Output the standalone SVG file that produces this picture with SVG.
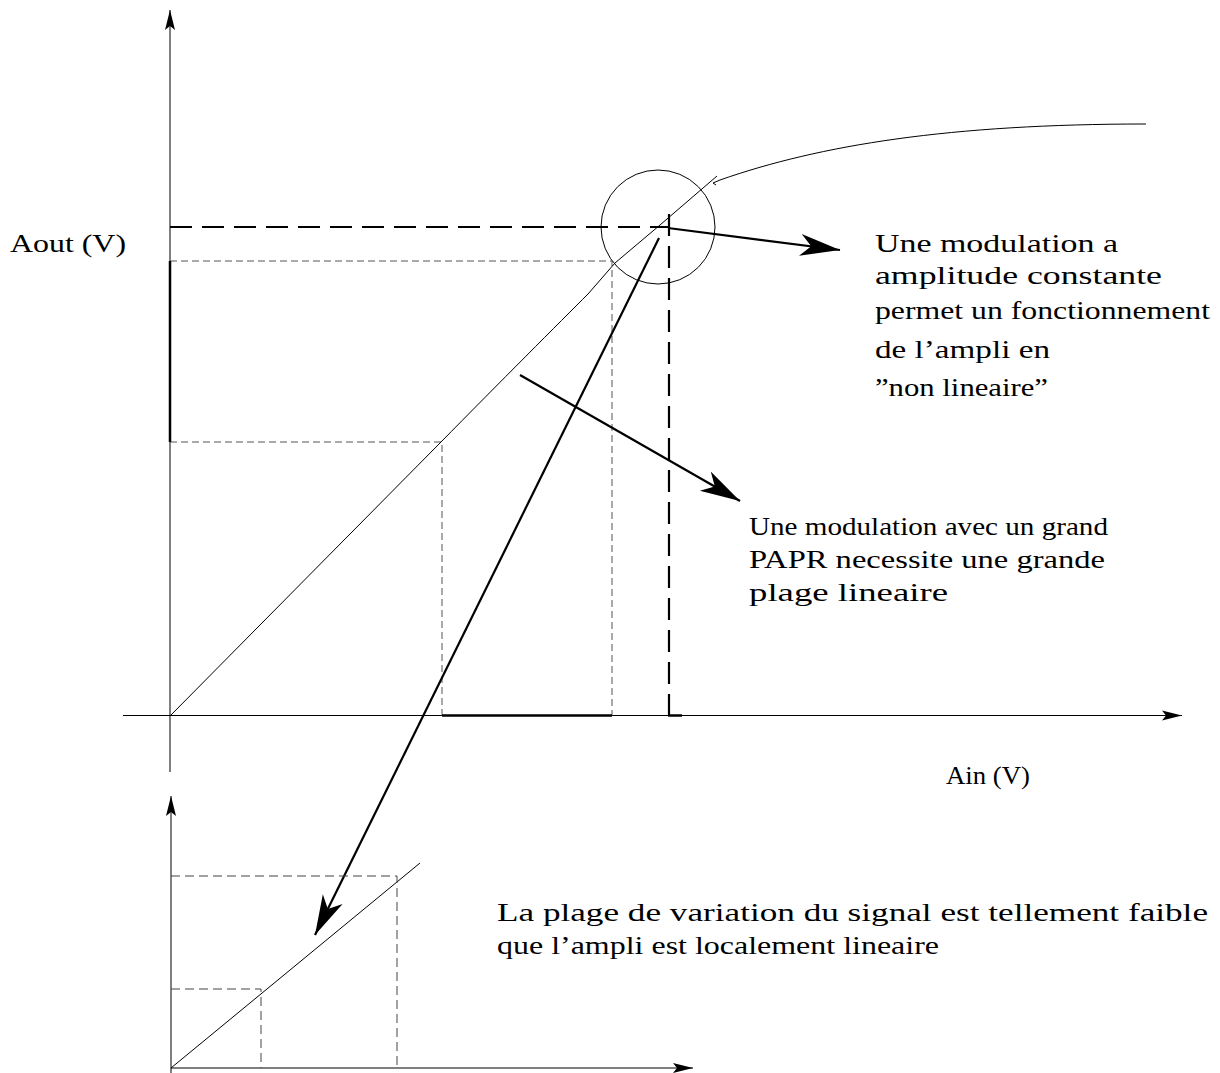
<svg xmlns="http://www.w3.org/2000/svg" width="1220" height="1073" viewBox="0 0 1220 1073">
<style>
.ax{stroke:#000;stroke-width:1;fill:none}
.thin{stroke:#000;stroke-width:1;fill:none}
.thick{stroke:#000;stroke-width:2.5;fill:none}
.bdash{stroke:#000;stroke-width:2.2;fill:none;stroke-dasharray:22 10}
.gdash{stroke:#555;stroke-width:1;fill:none;stroke-dasharray:7 4}
.sdash{stroke:#444;stroke-width:1;fill:none;stroke-dasharray:9 5}
.arr{stroke:#000;stroke-width:2.2;fill:none}
text{font-family:"Liberation Serif","Times New Roman",serif;font-size:26px;fill:#000}
</style>
<defs>
<marker id="ah" markerUnits="userSpaceOnUse" markerWidth="44" markerHeight="26" refX="40" refY="12" orient="auto" viewBox="0 0 44 24">
<path d="M0,1 L40,12 L0,23 L11,12 Z" fill="#000"/>
</marker>
<marker id="axh" markerUnits="userSpaceOnUse" markerWidth="22" markerHeight="12" refX="20" refY="5" orient="auto" viewBox="0 0 22 10">
<path d="M0,0 L20,5 L0,10 L4,5 Z" fill="#000"/>
</marker>
</defs>

<g id="main-axes">
<line class="ax" x1="170" y1="772" x2="170" y2="10" marker-end="url(#axh)"/>
<line class="ax" x1="123" y1="715.5" x2="1182" y2="715.5" marker-end="url(#axh)"/>
</g>

<g id="guides">
<polyline class="bdash" points="170,227 669,227"/>
<polyline class="bdash" points="669,214 669,716"/>
<line class="thick" x1="668" y1="715.5" x2="682" y2="715.5" stroke-width="2"/>
<polyline class="gdash" points="170,261 612,261 612,716"/>
<polyline class="gdash" points="170,442 442,442 442,716"/>
<line class="thick" x1="170" y1="261" x2="170" y2="442" stroke-width="2"/>
<line class="thick" x1="442" y1="715.5" x2="612" y2="715.5"/>
</g>

<g id="curve">
<path class="thin" d="M170,716 L440,443 C500,382 560,322 588,294 L615,263 L660,225 L717,176"/>
<path class="thin" d="M716,185 L713,183 L720,180 C820,145 950,124 1146,124"/>
<circle class="thin" cx="658" cy="227" r="57"/>
</g>

<g id="connectors">
<line class="arr" x1="668" y1="228" x2="840" y2="250" marker-end="url(#ah)"/>
<line class="arr" x1="520" y1="375" x2="740" y2="501" marker-end="url(#ah)"/>
<line class="arr" x1="659" y1="238" x2="315" y2="935" marker-end="url(#ah)"/>
</g>

<g id="inset">
<line class="ax" x1="171" y1="1073" x2="171" y2="796" marker-end="url(#axh)"/>
<line class="ax" x1="171" y1="1068" x2="693" y2="1068" marker-end="url(#axh)"/>
<line class="thin" x1="171" y1="1068" x2="420" y2="863"/>
<polyline class="sdash" points="171,876 397,876 397,1068"/>
<polyline class="sdash" points="171,989 261,989 261,1068"/>
</g>

<g id="labels">
<text x="10" y="252" textLength="116" lengthAdjust="spacingAndGlyphs">Aout (V)</text>
<text x="946" y="784" textLength="84" lengthAdjust="spacingAndGlyphs">Ain (V)</text>
<text x="875" y="252" textLength="243" lengthAdjust="spacingAndGlyphs">Une modulation a</text>
<text x="875" y="284" textLength="287" lengthAdjust="spacingAndGlyphs">amplitude constante</text>
<text x="875" y="319" textLength="335" lengthAdjust="spacingAndGlyphs">permet un fonctionnement</text>
<text x="875" y="358" textLength="175" lengthAdjust="spacingAndGlyphs">de l’ampli en</text>
<text x="875" y="396" textLength="173" lengthAdjust="spacingAndGlyphs">”non lineaire”</text>
<text x="749" y="535" textLength="359" lengthAdjust="spacingAndGlyphs">Une modulation avec un grand</text>
<text x="749" y="568" textLength="356" lengthAdjust="spacingAndGlyphs">PAPR necessite une grande</text>
<text x="749" y="601" textLength="199" lengthAdjust="spacingAndGlyphs">plage lineaire</text>
<text x="497" y="921" textLength="711" lengthAdjust="spacingAndGlyphs">La plage de variation du signal est tellement faible</text>
<text x="497" y="954" textLength="442" lengthAdjust="spacingAndGlyphs">que l’ampli est localement lineaire</text>
</g>
</svg>
